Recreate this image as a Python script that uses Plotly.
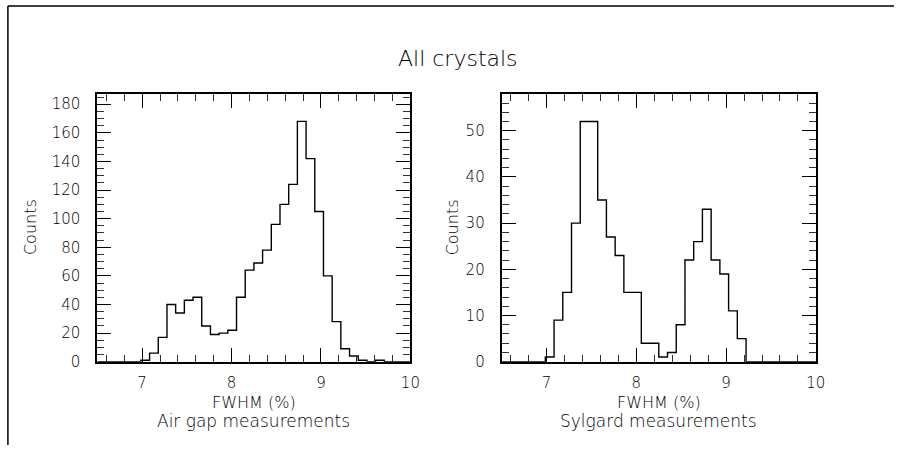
import plotly.graph_objects as go

# ---- data ----
bin_low = 6.5
bin_high = 10.0
n_bins = 36

air_gap_counts = [0, 0, 0, 0, 0, 1, 6, 17, 40, 34, 43, 45, 25, 19, 20, 22,
                  45, 64, 69, 78, 96, 110, 124, 168, 142, 105, 60, 28, 9, 4,
                  1, 0, 1, 0, 0, 0]
sylgard_counts = [0, 0, 0, 0, 0, 1, 9, 15, 30, 52, 52, 35, 27, 23, 15, 15,
                  4, 4, 1, 2, 8, 22, 26, 33, 22, 19, 11, 5, 0, 0,
                  0, 0, 0, 0, 0, 0]

x_tick_vals = [7, 8, 9, 10]
left_y_ticks = [0, 20, 40, 60, 80, 100, 120, 140, 160, 180]
right_y_ticks = [0, 10, 20, 30, 40, 50]

title_text = "All crystals"
x_title = "FWHM (%)"
left_sub = "Air gap measurements"
right_sub = "Sylgard measurements"
y_title = "Counts"

W, H = 904, 454
FONT = "DejaVu Sans, Liberation Sans, sans-serif"
WEIGHT = 200


def px(x):
    return x / W


def py(y):
    return 1 - y / H


def fnt(size):
    return dict(family=FONT, size=size, color="black", weight=WEIGHT)


width = (bin_high - bin_low) / n_bins
edges = [bin_low + i * width for i in range(n_bins + 1)]


def step_trace(counts, xa, ya):
    return go.Scatter(
        x=edges, y=list(counts) + [counts[-1]],
        mode="lines", line=dict(color="black", width=1.4, shape="hv"),
        xaxis=xa, yaxis=ya, showlegend=False, hoverinfo="skip",
    )


fig = go.Figure()
fig.add_trace(step_trace(air_gap_counts, "x", "y"))
fig.add_trace(step_trace(sylgard_counts, "x2", "y2"))

common_x = dict(
    range=[bin_low, bin_high], tickvals=x_tick_vals,
    ticks="inside", ticklen=14, tickwidth=1.4, tickcolor="black",
    minor=dict(dtick=0.2, tick0=0, ticks="inside", ticklen=7, tickwidth=1.2, tickcolor="#333"),
    mirror="allticks", showline=True, linecolor="black", linewidth=2,
    showgrid=False, zeroline=False, ticklabelstandoff=6,
    tickfont=fnt(15),
)
common_y = dict(
    ticks="inside", ticklen=14, tickwidth=1.4, tickcolor="black",
    mirror="allticks", showline=True, linecolor="black", linewidth=2,
    showgrid=False, zeroline=False, ticklabelstandoff=12,
    tickfont=fnt(15),
)

y_top_dom = py(95.7)
y_bot_dom = py(369)

fig.update_layout(
    width=W, height=H,
    margin=dict(l=0, r=0, t=0, b=0),
    paper_bgcolor="white", plot_bgcolor="white",
    showlegend=False,
    xaxis=dict(domain=[px(98.5), px(415)], anchor="y", **common_x),
    yaxis=dict(domain=[y_bot_dom, y_top_dom], anchor="x", range=[0, 187.3],
               tickvals=left_y_ticks,
               minor=dict(dtick=5, tick0=0, ticks="inside", ticklen=7, tickwidth=1.2, tickcolor="#333"),
               **common_y),
    xaxis2=dict(domain=[px(507.3), px(825)], anchor="y2", **common_x),
    yaxis2=dict(domain=[y_bot_dom, y_top_dom], anchor="x2", range=[0, 58.0],
                tickvals=right_y_ticks,
                minor=dict(dtick=2, tick0=0, ticks="inside", ticklen=7, tickwidth=1.2, tickcolor="#333"),
                **common_y),
)

# outer frame (top and left edges)
fig.add_shape(type="line", xref="paper", yref="paper",
              x0=px(8), x1=1.0, y0=py(6), y1=py(6),
              line=dict(color="black", width=1.5))
fig.add_shape(type="line", xref="paper", yref="paper",
              x0=px(8), x1=px(8), y0=0, y1=py(6),
              line=dict(color="black", width=1.5))

ann = []
ann.append(dict(text=title_text, x=px(463), y=py(60), xref="paper", yref="paper",
                showarrow=False, font=fnt(22),
                xanchor="center", yanchor="middle"))
for cx, sub in [(256.75, left_sub), (666.1, right_sub)]:
    ann.append(dict(text=x_title, x=px(cx), y=py(411), xref="paper", yref="paper",
                    showarrow=False, font=fnt(16),
                    xanchor="center", yanchor="middle"))
    ann.append(dict(text=sub, x=px(cx), y=py(430), xref="paper", yref="paper",
                    showarrow=False, font=fnt(17),
                    xanchor="center", yanchor="middle"))
for cx in [31, 457]:
    ann.append(dict(text=y_title, x=px(cx), y=py(232), xref="paper", yref="paper",
                    showarrow=False, textangle=-90, font=fnt(16),
                    xanchor="center", yanchor="middle"))
fig.update_layout(annotations=ann)

fig.write_html(
    "out.html",
    config={"displayModeBar": False},
    post_script=(
        "document.body.style.margin='0';"
        "document.body.style.overflow='hidden';"
        "document.documentElement.style.overflow='hidden';"
    ),
)
